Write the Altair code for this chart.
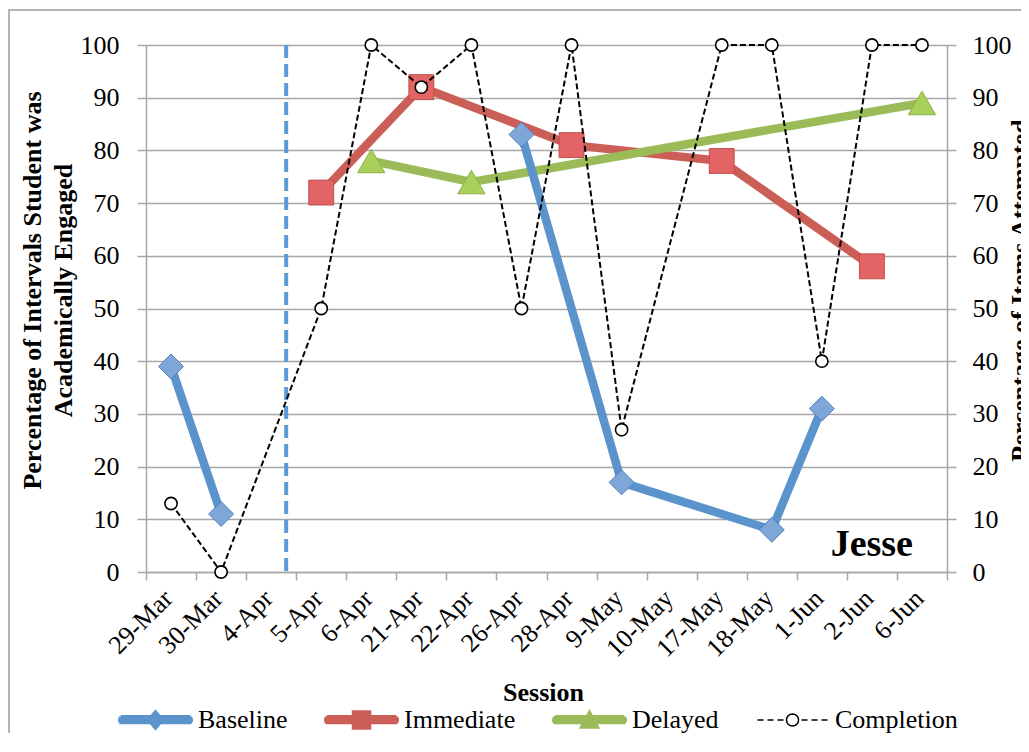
import math
import altair as alt
import pandas as pd

# ---------------- data ----------------
dates = ["29-Mar", "30-Mar", "4-Apr", "5-Apr", "6-Apr", "21-Apr", "22-Apr", "26-Apr",
         "28-Apr", "9-May", "10-May", "17-May", "18-May", "1-Jun", "2-Jun", "6-Jun"]
baseline = [39, 11, None, None, None, None, None, 83, None, 17, None, None, 8, 31, None, None]
baseline_segment = ["A", "A", None, None, None, None, None, "B", None, "B", None, None, "B", "B", None, None]
immediate = [None, None, None, 72, None, 92, None, None, 81, None, None, 78, None, None, 58, None]
delayed = [None, None, None, None, 78, None, 74, None, None, None, None, None, None, None, None, 89]
completion = [13, 0, None, 50, 100, 92, 100, 50, 100, 27, None, 100, 100, 40, 100, 100]

series_names = ["Baseline", "Immediate", "Delayed", "Completion"]
phase_change_date = ["4-Apr"]
student_label = ["Jesse"]
student_label_pos = [("6-Jun", 3)]

rows = []
for name, vals in zip(series_names, [baseline, immediate, delayed, completion]):
    for i, (d, v) in enumerate(zip(dates, vals)):
        if v is not None:
            seg = baseline_segment[i] if name == "Baseline" else "A"
            rows.append({"date": d, "series": name, "value": v, "segment": seg})
df = pd.DataFrame(rows)

phase_df = pd.DataFrame({"date": phase_change_date, "top": [100], "bottom": [0]})
label_df = pd.DataFrame({"date": [p[0] for p in student_label_pos],
                         "value": [p[1] for p in student_label_pos],
                         "label": student_label})
border_df = pd.DataFrame({"k": [0]})

# ---------------- style ----------------
FONT = "Liberation Serif"
GRID = "#a6a6a6"
W, H = 801, 527
PAD_L, PAD_T, PAD_R, PAD_B = 138, 37, 74, 161

BLUE, BLUE_FILL, BLUE_EDGE = "#5b93cd", "#7ea6d8", "#4f81bd"
RED, RED_FILL, RED_EDGE = "#cc5e58", "#e26464", "#c0504d"
GREEN, GREEN_FILL, GREEN_EDGE = "#9bbb59", "#aad05c", "#8cb043"

xscale = alt.Scale(domain=dates, paddingInner=0, paddingOuter=0)
yscale = alt.Scale(domain=[0, 100], nice=False, zero=True)

x_axis = alt.Axis(
    title="Session", labelAngle=-45, labelAlign="right", labelBaseline="middle",
    labelFont=FONT, labelFontSize=26, labelColor="black", labelPadding=14, labelOffset=-3,
    tickBand="extent", tickSize=8, tickColor=GRID, tickWidth=1.5,
    domainColor=GRID, domainWidth=1.5, grid=False,
    titleFont=FONT, titleFontSize=26, titleFontWeight="bold", titleColor="black",
    titleX=397, titleY=128, titleBaseline="alphabetic", titleAlign="center",
)
X = alt.X("date:N", scale=xscale, axis=x_axis)

yvals = list(range(0, 101, 10))
left_axis = alt.Axis(
    orient="left", values=yvals, grid=True, gridColor=GRID, gridWidth=1.5,
    tickSize=9, tickColor=GRID, tickWidth=1.5, domainColor=GRID, domainWidth=1.5,
    labelFont=FONT, labelFontSize=26, labelColor="black", labelPadding=18,
    title=["Percentage of Intervals Student was", "Academically Engaged"],
    titleFont=FONT, titleFontSize=26, titleFontWeight="bold", titleColor="black",
    titleAngle=270, titleX=-114, titleY=245, titleBaseline="middle", titleAlign="center",
    titleLineHeight=31,
)
right_axis = alt.Axis(
    orient="right", values=yvals, grid=False,
    tickSize=9, tickColor=GRID, tickWidth=1.5, domainColor=GRID, domainWidth=1.5,
    labelFont=FONT, labelFontSize=26, labelColor="black", labelPadding=16,
    title="Percentage of Items Attempted",
    titleFont=FONT, titleFontSize=26, titleFontWeight="bold", titleColor="black",
    titleAngle=270, titleX=73, titleY=245, titleBaseline="middle", titleAlign="center",
)


def Y(axis=None):
    return alt.Y("value:Q", scale=yscale, axis=axis)


def sub(name):
    return alt.Chart(df).transform_filter(alt.datum.series == name)


border = alt.Chart(border_df).mark_rect(
    fill="white", fillOpacity=0, stroke="#9a9a9a", strokeWidth=1.5
).encode(
    x=alt.value(-PAD_L + 1), x2=alt.value(W + 400),
    y=alt.value(-PAD_T + 2), y2=alt.value(H + 400),
)

phase = alt.Chart(phase_df).mark_rule(
    color="#5b9bd5", strokeWidth=4, strokeDash=[13, 6]
).encode(
    x=alt.X("date:N", scale=xscale, axis=x_axis, bandPosition=0.8),
    y=alt.Y("top:Q", scale=yscale, axis=None), y2="bottom:Q",
)

imm_line = sub("Immediate").mark_line(color=RED, strokeWidth=8.5, strokeJoin="round", strokeCap="round").encode(
    x=X, y=Y(left_axis))
imm_pts = sub("Immediate").mark_point(shape="square", size=620, filled=True, fill=RED_FILL,
                                       stroke=RED_EDGE, strokeWidth=1, opacity=1).encode(x=X, y=Y())
del_line = sub("Delayed").mark_line(color=GREEN, strokeWidth=8.5, strokeJoin="round", strokeCap="round").encode(
    x=X, y=Y())
del_pts = sub("Delayed").mark_point(shape="triangle-up", size=740, filled=True, fill=GREEN_FILL,
                                     stroke=GREEN_EDGE, strokeWidth=1, opacity=1).encode(x=X, y=Y())
base_line = sub("Baseline").mark_line(color=BLUE, strokeWidth=8.5, strokeJoin="round", strokeCap="round").encode(
    x=X, y=Y(), detail="segment:N")
base_pts = sub("Baseline").mark_point(shape="diamond", size=620, filled=True, fill=BLUE_FILL,
                                       stroke=BLUE_EDGE, strokeWidth=1, opacity=1).encode(x=X, y=Y())
comp_line = sub("Completion").mark_line(color="black", strokeWidth=2, strokeDash=[6, 3]).encode(
    x=X, y=Y(right_axis))
comp_pts = sub("Completion").mark_point(shape="circle", size=150, filled=True, fill="white",
                                         stroke="black", strokeWidth=1.6, opacity=1).encode(x=X, y=Y())

# ---------- legend symbols (line + marker), built from stroked scanlines ----------
U = 37.5  # pixels per symbol unit (sqrt(symbolSize)/2)


def f(v):
    return f"{v / U:.4f}"


def hline(x0, x1, y):
    return f"M{f(x0)},{f(y)}H{f(x1)}"


def steps(a, b, s=1.1):
    out, v = [], a
    while v <= b + 1e-9:
        out.append(v)
        v += s
    return out


def thick_line():
    p = ""
    for y in steps(-4.2, 4.2):
        half = 33 + math.sqrt(max(4.5 ** 2 - y ** 2, 0))
        p += hline(-half, half, y)
    return p


def diamond(hx=8.0, hy=9.5):
    p = ""
    for y in steps(-hy + 0.5, hy - 0.5):
        h = hx * (1 - abs(y) / hy)
        p += hline(-h, h, y)
    p += f"M0,{f(-hy)}L{f(hx)},0L0,{f(hy)}L{f(-hx)},0Z"
    return p


def square(h=9.0):
    p = ""
    for y in steps(-h, h):
        p += hline(-h, h, y)
    p += f"M{f(-h)},{f(-h)}H{f(h)}V{f(h)}H{f(-h)}Z"
    return p


def triangle(top=-9.5, bot=8.0, hw=9.5):
    p = ""
    for y in steps(top + 0.5, bot):
        h = hw * (y - top) / (bot - top)
        p += hline(-h, h, y)
    p += f"M0,{f(top)}L{f(hw)},{f(bot)}L{f(-hw)},{f(bot)}Z"
    return p


def dashed_circle():
    p = ""
    for a, b in [(-35, -29), (-25, -19), (-15, -9), (9, 15), (19, 25), (29, 35)]:
        p += hline(a, b, 0)
    r = 6.0
    pts = [(r * math.cos(2 * math.pi * k / 28), r * math.sin(2 * math.pi * k / 28)) for k in range(28)]
    p += "M" + "L".join(f"{f(x)},{f(y)}" for x, y in pts) + "Z"
    return p


paths = [
    thick_line() + diamond(),
    thick_line() + square(),
    thick_line() + triangle(),
    dashed_circle(),
]
leg = alt.Legend(
    title=None, orient="none", legendX=-29, legendY=662, direction="horizontal", columns=4,
    symbolSize=U * U * 4, symbolStrokeWidth=1.5, symbolOpacity=1, clipHeight=26,
    labelFont=FONT, labelFontSize=26, labelColor="black", labelOffset=4,
    columnPadding=35, padding=0, symbolOffset=0,
)
legend_layer = alt.Chart(df).mark_point(filled=False, opacity=0).encode(
    x=X, y=Y(),
    color=alt.Color("series:N", scale=alt.Scale(domain=series_names,
                                                range=[BLUE, RED, GREEN, "black"]), legend=leg),
    shape=alt.Shape("series:N", scale=alt.Scale(domain=series_names, range=paths), legend=leg),
)

jesse = alt.Chart(label_df).mark_text(
    font=FONT, fontSize=38, fontWeight="bold", color="black", align="right", baseline="alphabetic"
).encode(
    x=alt.X("date:N", scale=xscale, axis=x_axis, bandPosition=0.32),
    y=Y(), text="label:N",
)

chart = alt.layer(
    border, phase, imm_line, imm_pts, del_line, del_pts, base_line, base_pts,
    comp_line, comp_pts, legend_layer, jesse,
).resolve_axis(y="independent").properties(
    width=W, height=H,
    autosize=alt.AutoSizeParams(type="none"),
    padding={"left": PAD_L, "top": PAD_T, "right": PAD_R, "bottom": PAD_B},
    background="white",
).configure_view(stroke=None)

chart.save("out.html", embed_options={"renderer": "svg", "actions": False})
